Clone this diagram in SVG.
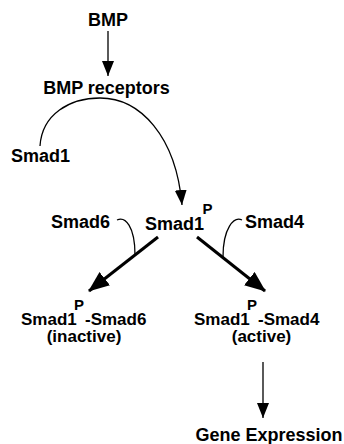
<svg xmlns="http://www.w3.org/2000/svg" width="344" height="444" viewBox="0 0 344 444">
<style>
text{font-family:"Liberation Sans",Arial,sans-serif;font-weight:bold;font-size:18px;fill:#000}
.lab{font-size:17px}
.sup{font-size:15px}
.thin{fill:none;stroke:#000;stroke-width:1.3}
.thick{fill:none;stroke:#000;stroke-width:3}
</style>
<defs>
<marker id="ah" markerUnits="userSpaceOnUse" markerWidth="16" markerHeight="14" refX="15" refY="6.5" orient="auto">
<path d="M0,0.5 L15,6.5 L0,12.5 Z" fill="#000"/>
</marker>
<marker id="ahb" markerUnits="userSpaceOnUse" markerWidth="22" markerHeight="18" refX="20" refY="8.5" orient="auto">
<path d="M0,0 L21,8.5 L0,17 Z" fill="#000"/>
</marker>
</defs>
<g id="connectors">
<line class="thin" x1="108" y1="31" x2="108" y2="76" marker-end="url(#ah)"/>
<path class="thin" d="M40,146 C42,114 70,98 100,98 C140,98 176,136 182,205" marker-end="url(#ah)"/>
<line class="thick" x1="158" y1="237" x2="89" y2="291" marker-end="url(#ahb)"/>
<line class="thick" x1="197" y1="237" x2="265" y2="291" marker-end="url(#ahb)"/>
<path class="thin" d="M117,220 C125,216 135,226 135,255"/>
<path class="thin" d="M242,220 C234,216 223,228 223,257"/>
<line class="thin" x1="263" y1="362" x2="263" y2="418" marker-end="url(#ah)"/>
</g>
<g id="bmp"><text x="108" y="26" text-anchor="middle">BMP</text></g>
<g id="bmp-receptors"><text x="106.5" y="94" text-anchor="middle">BMP receptors</text></g>
<g id="smad1"><text x="11" y="162">Smad1</text></g>
<g id="smad1p"><text x="145" y="230">Smad1<tspan class="sup" x="202.5" y="214">P</tspan></text></g>
<g id="smad6"><text x="51" y="228">Smad6</text></g>
<g id="smad4"><text x="245" y="228">Smad4</text></g>
<g id="smad1p-smad6">
<text class="lab" x="21" y="325">Smad1<tspan class="sup" x="74" y="310">P</tspan><tspan x="85" y="325">-Smad6</tspan></text>
<text class="lab" x="84" y="342" text-anchor="middle">(inactive)</text>
</g>
<g id="smad1p-smad4">
<text class="lab" x="194" y="325">Smad1<tspan class="sup" x="247" y="310">P</tspan><tspan x="258" y="325">-Smad4</tspan></text>
<text class="lab" x="261.5" y="342" text-anchor="middle">(active)</text>
</g>
<g id="gene-expression"><text x="269" y="441" text-anchor="middle">Gene Expression</text></g>
</svg>
